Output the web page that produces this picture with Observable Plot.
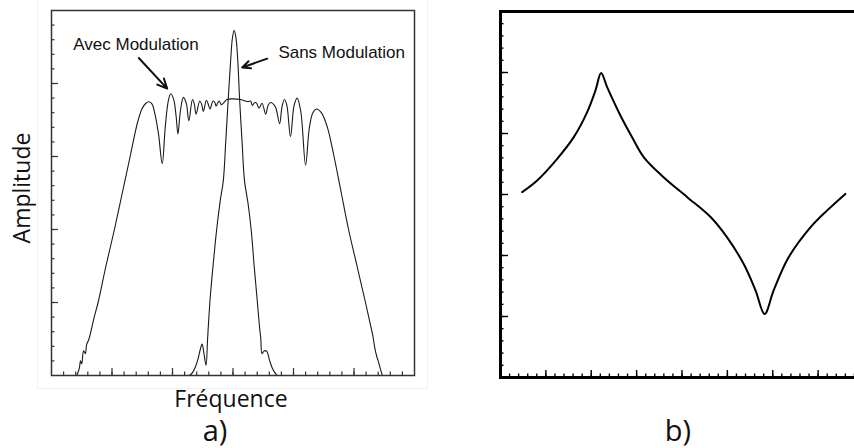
<!DOCTYPE html>
<html><head><meta charset="utf-8">
<script src="https://cdn.jsdelivr.net/npm/d3@7"></script>
<script src="https://cdn.jsdelivr.net/npm/@observablehq/plot@0.6"></script>
<style>
body{margin:0;background:#fff;width:854px;height:448px;overflow:hidden;position:relative;}
svg{max-width:none !important;}
.lbl{position:absolute;font-family:"Open Sans",sans-serif;color:#111;white-space:nowrap;line-height:1;}
#frameA{position:absolute;left:37px;top:-2px;width:389px;height:389px;border:1px solid #f1f1f1;}
#b{position:absolute;left:480px;top:0;width:400px;}
</style></head><body>
<div id="frameA"></div>
<div id="a" style="position:absolute;left:0;top:0"></div>
<div id="b"></div>
<div class="lbl" id="ylab" style="font-size:23px;left:21px;top:188px;transform:translate(-50%,-50%) rotate(-90deg);">Amplitude</div>
<div class="lbl" style="font-size:23px;left:231px;top:387px;transform:translateX(-50%);">Fréquence</div>
<div class="lbl" style="font-size:29px;left:215px;top:415px;transform:translateX(-50%);">a)</div>
<div class="lbl" style="font-size:29px;left:678px;top:415px;transform:translateX(-50%);">b)</div>
<script>
// Panel a: spectrum "Avec Modulation"
const avecFreq = [0.42,0.46,0.48,0.50,0.53,0.56,0.58,0.62,0.70,0.77,0.90,1.04,1.17,1.30,1.37,1.43,1.50,1.56,1.61,1.66,1.71,1.77,1.83,1.88,1.93,1.97,2.02,2.06,2.09,2.13,2.18,2.23,2.27,2.33,2.36,2.39,2.45,2.48,2.51,2.56,2.59,2.62,2.67,2.70,2.72,2.77,2.81,2.90,3.00,3.12,3.20,3.25,3.29,3.32,3.36,3.39,3.43,3.48,3.54,3.58,3.62,3.70,3.77,3.81,3.85,3.89,3.95,4.01,4.06,4.12,4.20,4.26,4.32,4.38,4.46,4.56,4.67,4.79,4.91,5.05,5.19,5.27,5.31,5.35,5.38,5.40,5.42,5.45,5.47];
const avecAmp  = [0,0.10,0.20,0.16,0.34,0.30,0.42,0.50,0.78,1.0,1.5,2.0,2.5,3.0,3.28,3.49,3.66,3.73,3.75,3.72,3.58,3.30,2.90,3.40,3.76,3.86,3.78,3.55,3.31,3.62,3.81,3.72,3.49,3.78,3.72,3.58,3.76,3.72,3.62,3.77,3.72,3.65,3.76,3.74,3.69,3.76,3.71,3.78,3.79,3.78,3.76,3.75,3.76,3.70,3.74,3.73,3.66,3.73,3.58,3.70,3.74,3.68,3.45,3.68,3.78,3.70,3.27,3.70,3.80,3.62,2.88,3.38,3.60,3.65,3.60,3.40,3.0,2.5,2.0,1.5,1.0,0.7,0.55,0.35,0.25,0.20,0.14,0.05,0];
// Panel a: spectrum "Sans Modulation"
const sansFreq = [2.28,2.33,2.38,2.42,2.46,2.49,2.52,2.555,2.58,2.62,2.67,2.73,2.79,2.84,2.88,2.92,2.96,2.99,3.02,3.05,3.08,3.11,3.15,3.19,3.25,3.30,3.35,3.40,3.44,3.46,3.48,3.52,3.56,3.60,3.65,3.70,3.73];
const sansAmp  = [0,0.04,0.12,0.22,0.36,0.43,0.30,0.14,0.50,1.03,1.5,2.0,2.4,2.67,3.2,3.77,4.3,4.62,4.73,4.62,4.3,3.77,3.2,2.67,2.35,2.0,1.5,1.03,0.65,0.5,0.30,0.34,0.33,0.22,0.10,0.03,0];
// Panel b curve
const bX = [0.478,0.808,1.249,1.615,1.91,2.09,2.218,2.35,2.64,2.90,3.16,3.60,4.11,4.63,4.99,5.36,5.62,5.82,6.02,6.35,6.83,7.20,7.60];
const bY = [3.04,3.23,3.585,3.94,4.35,4.70,4.99,4.76,4.30,3.94,3.61,3.28,2.96,2.63,2.30,1.86,1.43,1.04,1.43,1.97,2.46,2.74,3.01];
// Annotations (panel a)
const labelText = ["Avec Modulation","Sans Modulation"];
const labelX = [0.36,3.75];
const labelY = [4.54,4.42];
const arrowFrom = [[1.443,4.35],[3.565,4.34]];
const arrowTo   = [[1.912,3.93],[3.152,4.22]];
// Ticks
const aXMajor = [1,2,3,4,5], aYMajor = [1,2,3,4];
const aXMinor = d3.range(1,30).map(i=>i/5), aYMinor = d3.range(1,25).map(i=>i/5);
const bXMajor = [1,2,3,4,5,6,7], bYMajor = [1,2,3,4,5];
const bXMinor = d3.range(1,40).map(i=>i/5), bYMinor = d3.range(1,30).map(i=>i/5);

const avec = avecFreq.map((f,i)=>({f, a: avecAmp[i]}));
const sans = sansFreq.map((f,i)=>({f, a: sansAmp[i]}));
const bData = bX.map((x,i)=>({x, y: bY[i]}));
const labels = labelText.map((t,i)=>({t, x: labelX[i], y: labelY[i]}));
const arrows = arrowFrom.map((p,i)=>({x1:p[0], y1:p[1], x2:arrowTo[i][0], y2:arrowTo[i][1]}));

const AW = 363, AH = 365;
const plotA = Plot.plot({
  width: 430, height: 380,
  marginLeft: 51, marginRight: 16, marginTop: 10, marginBottom: 5,
  x: {domain: [0,6], axis: null},
  y: {domain: [0,5], axis: null},
  marks: [
    Plot.tickX(aXMinor, {x: d=>d, insetTop: AH-3.5, stroke: "#333", strokeWidth: 1.2}),
    Plot.tickX(aXMajor, {x: d=>d, insetTop: AH-7, stroke: "#333", strokeWidth: 1.2}),
    Plot.tickY(aYMinor, {y: d=>d, insetRight: AW-3.5, stroke: "#333", strokeWidth: 1.2}),
    Plot.tickY(aYMajor, {y: d=>d, insetRight: AW-7, stroke: "#333", strokeWidth: 1.2}),
    Plot.line(avec, {x: "f", y: "a", stroke: "#1a1a1a", strokeWidth: 1.1, curve: "catmull-rom"}),
    Plot.line(sans, {x: "f", y: "a", stroke: "#1a1a1a", strokeWidth: 1.1, curve: "catmull-rom"}),
    Plot.arrow(arrows, {x1:"x1", y1:"y1", x2:"x2", y2:"y2", stroke:"#111", strokeWidth: 2, headLength: 8, headAngle: 50}),
    Plot.text(labels, {x:"x", y:"y", text:"t", textAnchor:"start", lineAnchor:"middle", fontSize: 17, fontFamily: "'Liberation Sans', Arial, sans-serif", fill:"#111"}),
    Plot.frame({stroke: "#333", strokeWidth: 1.5})
  ]
});
document.getElementById("a").append(plotA);

const BW = 363, BH = 366;
const plotB = Plot.plot({
  width: 400, height: 380,
  marginLeft: 20, marginRight: 17, marginTop: 11, marginBottom: 3,
  x: {domain: [0,8], axis: null},
  y: {domain: [0,6], axis: null},
  marks: [
    Plot.tickX(bXMinor, {x: d=>d, insetTop: BH-3.5, stroke: "#000", strokeWidth: 1.4}),
    Plot.tickX(bXMajor, {x: d=>d, insetTop: BH-7, stroke: "#000", strokeWidth: 1.4}),
    Plot.tickY(bYMinor, {y: d=>d, insetRight: BW-3.5, stroke: "#000", strokeWidth: 1.4}),
    Plot.tickY(bYMajor, {y: d=>d, insetRight: BW-8, stroke: "#000", strokeWidth: 1.4}),
    Plot.line(bData, {x: "x", y: "y", stroke: "#000", strokeWidth: 2, curve: "catmull-rom"}),
    Plot.frame({stroke: "#000", strokeWidth: 3})
  ]
});
document.getElementById("b").append(plotB);
</script>
</body></html>
